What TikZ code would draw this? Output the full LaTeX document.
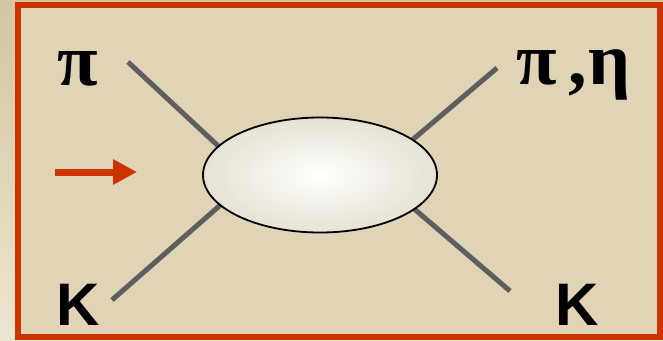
\documentclass[tikz,border=0pt]{standalone}
\usepackage{fontspec}
\usepackage{tikz}
\usetikzlibrary{arrows.meta,backgrounds,shapes.geometric}
\newfontfamily\greekfont{Liberation Serif}
\newfontfamily\kaonfont{Liberation Sans}
\definecolor{framered}{HTML}{CC3300}
\definecolor{paper}{HTML}{E0D3B6}
\definecolor{slidetop}{HTML}{D3C6A0}
\definecolor{slidebottom}{HTML}{ECE5D0}
\definecolor{leggray}{HTML}{5E5E5E}
\definecolor{blobedge}{HTML}{E6E2D3}
\pgfdeclarelayer{slide}
\pgfdeclarelayer{background}
\pgfsetlayers{slide,background,main}
\tikzset{
  blob/.style={ellipse,draw=black,line width=1.8pt,inner color=white,outer color=blobedge,
    minimum width=234pt,minimum height=115pt,inner sep=0pt},
  leg/.style={draw=leggray,line width=5pt,shorten >=-4pt},
  beam/.style={-{Triangle[length=24pt,width=24pt]},draw=framered,fill=framered,line width=7pt},
  kaon/.style={anchor=base,inner sep=0pt,font=\fontsize{60}{60}\selectfont\kaonfont\bfseries},
  meson/.style={anchor=base,inner sep=0pt,font=\fontsize{74}{74}\selectfont\greekfont\bfseries},
  frame/.style={draw=framered,line width=6pt,fill=paper}
}

\begin{document}
\begin{tikzpicture}[x=1pt,y=-1pt]
\useasboundingbox (0,0) rectangle (663,340);
\begin{pgfonlayer}{slide}
\fill[top color=slidetop,bottom color=slidebottom] (0,0) rectangle (663,340);
\draw[frame] (18,5) rectangle (660,336.5);
\end{pgfonlayer}
% particles
\node[meson] (piin) at (77.5,85) {π};
\node[kaon] (kin) at (78,325) {K};
\node[meson] (out) at (574,84) {π\hspace{11pt},\hspace{2pt}η};
\node[kaon] (kout) at (577,325) {K};
\node[blob] (blob) at (320,175) {};
\coordinate (piend) at (128,62);
\coordinate (kend) at (112,300);
\coordinate (outend) at (497,68);
\coordinate (koutend) at (510,291);
\begin{scope}[on background layer]
\draw[leg] (piend) -- (blob.164);
\draw[leg] (kend) -- (blob.197);
\draw[leg] (outend) -- (blob.21);
\draw[leg] (koutend) -- (blob.340);
\end{scope}
% incoming direction
\coordinate (beamstart) at (55,172);
\coordinate (beamtip) at (137,172);
\draw[beam] (beamstart) -- (beamtip);
\end{tikzpicture}
\end{document}
